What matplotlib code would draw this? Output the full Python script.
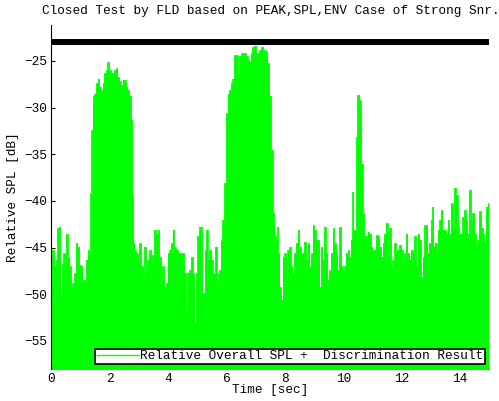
import matplotlib
matplotlib.use("Agg")
import matplotlib.pyplot as plt

# peak envelope of the relative overall SPL
time_sec = [
    0.00, 0.06, 0.12, 0.18, 0.23, 0.29, 0.31, 0.35, 0.38, 0.43, 0.47, 0.52, 0.58, 0.63, 0.69,
    0.75, 0.81, 0.86, 0.92, 0.98, 1.03, 1.09, 1.15, 1.21, 1.26, 1.32, 1.35, 1.39, 1.43, 1.49,
    1.55, 1.61, 1.66, 1.72, 1.78, 1.83, 1.89, 1.95, 2.01, 2.06, 2.12, 2.18, 2.23, 2.29, 2.35,
    2.41, 2.46, 2.52, 2.58, 2.63, 2.69, 2.75, 2.78, 2.83, 2.86, 2.92, 2.98, 3.03, 3.09, 3.15,
    3.21, 3.26, 3.32, 3.38, 3.43, 3.49, 3.55, 3.61, 3.66, 3.72, 3.78, 3.83, 3.89, 3.95, 4.01,
    4.06, 4.12, 4.18, 4.23, 4.29, 4.35, 4.41, 4.46, 4.52, 4.58, 4.63, 4.69, 4.75, 4.81, 4.86,
    4.92, 4.98, 5.03, 5.09, 5.23, 5.29, 5.32, 5.38, 5.43, 5.49, 5.55, 5.58, 5.64, 5.69, 5.73,
    5.78, 5.83, 5.89, 5.95, 6.01, 6.06, 6.12, 6.18, 6.23, 6.29, 6.35, 6.41, 6.46, 6.52, 6.58,
    6.63, 6.69, 6.75, 6.81, 6.86, 6.92, 6.98, 7.03, 7.09, 7.15, 7.21, 7.26, 7.32, 7.38, 7.43,
    7.49, 7.55, 7.61, 7.66, 7.72, 7.75, 7.79, 7.83, 7.89, 7.95, 8.00, 8.06, 8.12, 8.18, 8.23,
    8.29, 8.35, 8.41, 8.46, 8.52, 8.58, 8.63, 8.69, 8.75, 8.81, 8.86, 8.92, 8.98, 9.03, 9.09,
    9.15, 9.21, 9.26, 9.32, 9.38, 9.43, 9.49, 9.55, 9.61, 9.66, 9.72, 9.78, 9.83, 9.89, 9.95,
    10.01, 10.06, 10.12, 10.18, 10.23, 10.29, 10.33, 10.37, 10.43, 10.46, 10.52, 10.58, 10.61,
    10.64, 10.69, 10.75, 10.81, 10.86, 10.92, 10.98, 11.03, 11.09, 11.15, 11.21, 11.26, 11.32,
    11.38, 11.43, 11.49, 11.55, 11.61, 11.66, 11.72, 11.78, 11.83, 11.89, 11.95, 12.01, 12.06,
    12.12, 12.18, 12.23, 12.29, 12.35, 12.41, 12.46, 12.52, 12.58, 12.63, 12.69, 12.75, 12.81,
    12.86, 12.92, 12.98, 13.03, 13.07, 13.11, 13.17, 13.23, 13.26, 13.32, 13.38, 13.43, 13.49,
    13.55, 13.61, 13.66, 13.72, 13.78, 13.83, 13.89, 13.95, 14.00, 14.06, 14.12, 14.18, 14.23,
    14.29, 14.35, 14.40, 14.46, 14.52, 14.58, 14.63, 14.69, 14.75, 14.81, 14.86, 14.92, 14.98,
    15.00,
]
spl_db = [
    -47.0, -45.25, -47.0, -46.3, -42.9, -42.75, -49.2, -50.25, -46.7, -45.6, -47.75, -43.5, -46.0, -47.0, -49.2,
    -48.8, -47.75, -44.5, -44.9, -46.9, -47.0, -48.5, -48.5, -46.3, -45.25, -45.6, -39.2, -32.4, -28.8, -28.5,
    -27.4, -26.9, -27.75, -28.1, -27.4, -26.3, -26.0, -25.1, -26.0, -26.3, -26.3, -26.0, -25.8, -26.7, -27.2,
    -27.6, -27.0, -27.0, -27.75, -28.1, -28.8, -31.3, -39.5, -44.5, -45.25, -45.6, -46.3, -44.5, -47.0, -48.1,
    -44.9, -47.4, -46.3, -45.25, -46.0, -45.8, -43.1, -43.5, -43.1, -46.0, -47.75, -47.0, -49.2, -48.8, -45.6,
    -45.25, -44.5, -43.1, -44.9, -45.25, -45.6, -45.6, -45.6, -45.6, -47.75, -51.7, -47.75, -47.4, -46.0, -47.75,
    -53.1, -47.75, -43.8, -42.75, -49.9, -45.25, -43.1, -46.3, -45.25, -46.3, -47.75, -47.75, -44.9, -48.8, -47.75,
    -47.4, -44.2, -42.0, -38.1, -30.6, -28.5, -28.1, -27.4, -26.9, -24.4, -24.4, -26.3, -24.5, -24.2, -24.2,
    -24.2, -24.5, -24.9, -25.1, -24.2, -23.5, -23.4, -24.2, -24.2, -23.8, -23.5, -23.8, -23.8, -24.0, -25.25,
    -28.8, -34.5, -41.3, -43.8, -44.2, -42.75, -45.6, -49.2, -50.6, -46.0, -45.6, -46.3, -45.25, -44.9, -47.0,
    -47.75, -45.6, -44.5, -43.1, -44.9, -45.6, -45.6, -44.4, -46.3, -44.5, -47.0, -45.6, -42.6, -43.1, -44.2,
    -44.2, -49.2, -44.9, -46.3, -42.75, -45.6, -48.5, -47.4, -45.6, -42.9, -44.5, -45.6, -47.4, -42.75, -47.0,
    -47.75, -47.0, -45.6, -45.25, -46.0, -44.2, -39.0, -43.1, -43.1, -33.1, -28.6, -29.2, -31.0,
    -36.0, -41.3, -43.8, -43.8, -43.3, -43.5, -44.9, -45.25, -45.25, -43.6, -43.8, -44.9, -46.0,
    -44.5, -43.5, -42.4, -45.6, -42.9, -47.0, -46.3, -44.5, -45.6, -45.25, -44.7, -45.25, -46.3,
    -45.6, -43.5, -45.6, -46.3, -45.25, -45.6, -43.8, -47.0, -43.5, -44.2, -48.1, -46.0, -42.6,
    -42.6, -45.6, -44.5, -42.0, -40.6, -44.9, -44.5, -45.6, -43.1, -42.0, -41.0, -43.1, -43.1,
    -43.5, -42.0, -43.5, -40.25, -42.75, -38.6, -39.4, -42.75, -43.5, -43.5, -41.7, -41.0, -42.0,
    -43.5, -38.8, -42.0, -41.3, -43.5, -44.9, -44.2, -41.1, -42.9, -43.5, -44.5, -40.6, -40.25,
    -43.5,
]
result_level = -23.0
time_range = [0, 15]

plt.rcParams['font.family'] = ['Liberation Mono', 'DejaVu Sans Mono']
plt.rcParams['font.size'] = 9.2

fig = plt.figure(figsize=(4.99, 4.01), dpi=100)
ax = fig.add_axes([0.1032, 0.0798, 0.8768, 0.8579])

green = '#00ff00'
ax.fill_between(time_sec, spl_db, -60, step='mid', color=green, lw=0, zorder=2)
ax.plot(time_sec, spl_db, color=green, lw=0.6, drawstyle='steps-mid', zorder=2,
        label='Relative Overall SPL +  Discrimination Result')
ax.plot(time_range, [result_level, result_level], color='black', lw=4.3, zorder=3,
        solid_capstyle='butt')

ax.set_xlim(0, 15)
ax.set_ylim(-58.0, -21.15)
ax.set_xticks(range(0, 15, 2))
ax.set_yticks([-55, -50, -45, -40, -35, -30, -25])
ax.tick_params(direction='in', length=3, width=0.8, labelsize=9.2, pad=3)

ax.spines['top'].set_visible(False)
ax.spines['right'].set_visible(False)
ax.spines['left'].set_zorder(4)
ax.spines['bottom'].set_zorder(1)

ax.set_xlabel('Time [sec]', labelpad=-1)
ax.set_ylabel('Relative SPL [dB]', labelpad=4)
ax.set_title('Closed Test by FLD based on PEAK,SPL,ENV Case of Strong Snr.',
             fontsize=9.15, pad=8)

leg = ax.legend(loc='lower right', bbox_to_anchor=(485 / 499, 37 / 401),
                bbox_transform=fig.transFigure, borderaxespad=0, fancybox=False,
                framealpha=1, edgecolor='black', borderpad=0.12, handlelength=3.3,
                handletextpad=0.1, fontsize=9.2)
leg.get_frame().set_linewidth(1.2)
for h in leg.get_lines():
    h.set_linewidth(1.0)
    h.set_drawstyle('default')

fig.savefig('out.png', dpi=100)
